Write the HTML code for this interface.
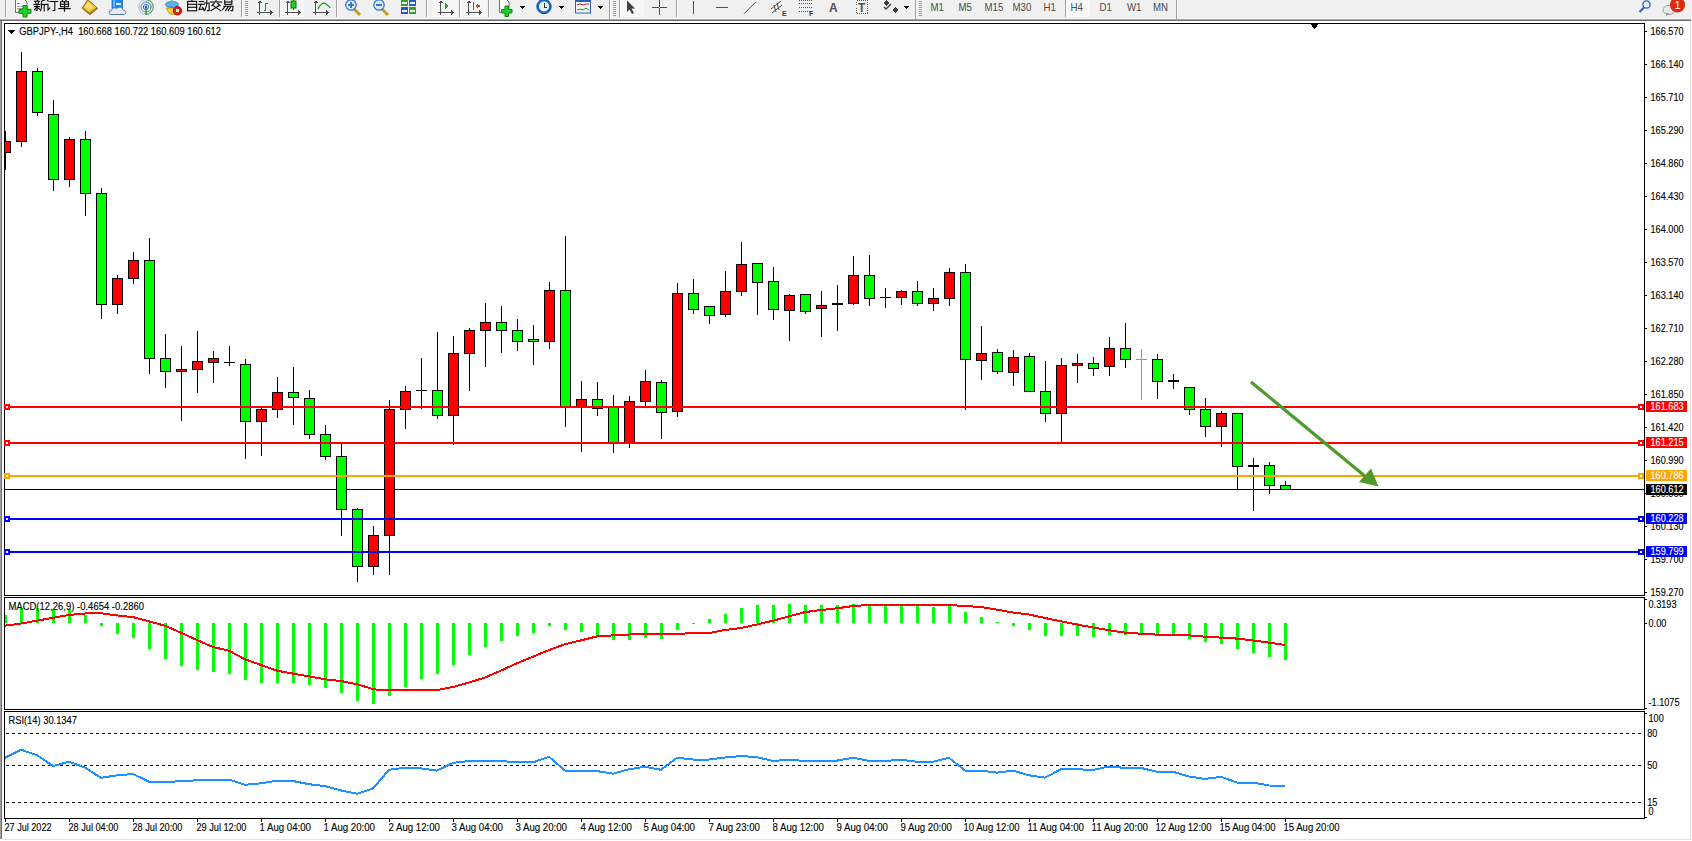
<!DOCTYPE html>
<html><head><meta charset="utf-8"><title>GBPJPY-,H4</title>
<style>html,body{margin:0;padding:0;background:#fff;overflow:hidden}
svg{position:absolute;left:0;top:0;display:block}
text{font-family:"Liberation Sans",sans-serif;white-space:pre}</style></head>
<body>
<svg width="1692" height="841" viewBox="0 0 1692 841" shape-rendering="crispEdges">
<defs>
<clipPath id="cmain"><rect x="5" y="24" width="1639" height="571"/></clipPath>
<clipPath id="cmacd"><rect x="5" y="598" width="1639" height="111"/></clipPath>
<clipPath id="crsi"><rect x="5" y="712" width="1639" height="106"/></clipPath>
</defs>
<rect x="0" y="0" width="1692" height="841" fill="#ffffff"/>
<rect x="0" y="0" width="1692" height="19" fill="#f0f0f0"/>
<rect x="0" y="18" width="1692" height="1" fill="#f7f7f7"/>
<rect x="0" y="19" width="1691" height="1" fill="#a8a8a8"/>
<rect x="0" y="20" width="1691" height="1" fill="#6e6e6e"/>
<rect x="0" y="21" width="1" height="818" fill="#a0a0a0"/>
<rect x="1" y="21" width="1" height="818" fill="#6e6e6e"/>
<rect x="1690" y="21" width="1" height="819" fill="#e0e0e0"/>
<rect x="2" y="839" width="1689" height="1" fill="#e3e3e3"/>
<rect x="4" y="23" width="1641" height="1" fill="#000"/>
<rect x="4" y="595" width="1641" height="1" fill="#000"/>
<rect x="4" y="23" width="1" height="573" fill="#000"/>
<rect x="1644" y="23" width="1" height="573" fill="#000"/>
<rect x="4" y="597" width="1641" height="1" fill="#000"/>
<rect x="4" y="709" width="1641" height="1" fill="#000"/>
<rect x="4" y="597" width="1" height="113" fill="#000"/>
<rect x="1644" y="597" width="1" height="113" fill="#000"/>
<rect x="4" y="711" width="1641" height="1" fill="#000"/>
<rect x="4" y="818" width="1641" height="1" fill="#000"/>
<rect x="4" y="711" width="1" height="108" fill="#000"/>
<rect x="1644" y="711" width="1" height="108" fill="#000"/>
<rect x="1645" y="31" width="2" height="1" fill="#000"/>
<text transform="translate(1650.5,35) scale(0.915,1)" font-size="10" fill="#000" stroke="#000" stroke-width="0.12" text-anchor="start" font-weight="normal">166.570</text>
<rect x="1645" y="64" width="2" height="1" fill="#000"/>
<text transform="translate(1650.5,68) scale(0.915,1)" font-size="10" fill="#000" stroke="#000" stroke-width="0.12" text-anchor="start" font-weight="normal">166.140</text>
<rect x="1645" y="97" width="2" height="1" fill="#000"/>
<text transform="translate(1650.5,101) scale(0.915,1)" font-size="10" fill="#000" stroke="#000" stroke-width="0.12" text-anchor="start" font-weight="normal">165.710</text>
<rect x="1645" y="130" width="2" height="1" fill="#000"/>
<text transform="translate(1650.5,134) scale(0.915,1)" font-size="10" fill="#000" stroke="#000" stroke-width="0.12" text-anchor="start" font-weight="normal">165.290</text>
<rect x="1645" y="163" width="2" height="1" fill="#000"/>
<text transform="translate(1650.5,167) scale(0.915,1)" font-size="10" fill="#000" stroke="#000" stroke-width="0.12" text-anchor="start" font-weight="normal">164.860</text>
<rect x="1645" y="196" width="2" height="1" fill="#000"/>
<text transform="translate(1650.5,200) scale(0.915,1)" font-size="10" fill="#000" stroke="#000" stroke-width="0.12" text-anchor="start" font-weight="normal">164.430</text>
<rect x="1645" y="229" width="2" height="1" fill="#000"/>
<text transform="translate(1650.5,233) scale(0.915,1)" font-size="10" fill="#000" stroke="#000" stroke-width="0.12" text-anchor="start" font-weight="normal">164.000</text>
<rect x="1645" y="262" width="2" height="1" fill="#000"/>
<text transform="translate(1650.5,266) scale(0.915,1)" font-size="10" fill="#000" stroke="#000" stroke-width="0.12" text-anchor="start" font-weight="normal">163.570</text>
<rect x="1645" y="295" width="2" height="1" fill="#000"/>
<text transform="translate(1650.5,299) scale(0.915,1)" font-size="10" fill="#000" stroke="#000" stroke-width="0.12" text-anchor="start" font-weight="normal">163.140</text>
<rect x="1645" y="328" width="2" height="1" fill="#000"/>
<text transform="translate(1650.5,332) scale(0.915,1)" font-size="10" fill="#000" stroke="#000" stroke-width="0.12" text-anchor="start" font-weight="normal">162.710</text>
<rect x="1645" y="361" width="2" height="1" fill="#000"/>
<text transform="translate(1650.5,365) scale(0.915,1)" font-size="10" fill="#000" stroke="#000" stroke-width="0.12" text-anchor="start" font-weight="normal">162.280</text>
<rect x="1645" y="394" width="2" height="1" fill="#000"/>
<text transform="translate(1650.5,398) scale(0.915,1)" font-size="10" fill="#000" stroke="#000" stroke-width="0.12" text-anchor="start" font-weight="normal">161.850</text>
<rect x="1645" y="427" width="2" height="1" fill="#000"/>
<text transform="translate(1650.5,431) scale(0.915,1)" font-size="10" fill="#000" stroke="#000" stroke-width="0.12" text-anchor="start" font-weight="normal">161.420</text>
<rect x="1645" y="460" width="2" height="1" fill="#000"/>
<text transform="translate(1650.5,464) scale(0.915,1)" font-size="10" fill="#000" stroke="#000" stroke-width="0.12" text-anchor="start" font-weight="normal">160.990</text>
<rect x="1645" y="493" width="2" height="1" fill="#000"/>
<text transform="translate(1650.5,497) scale(0.915,1)" font-size="10" fill="#000" stroke="#000" stroke-width="0.12" text-anchor="start" font-weight="normal">160.560</text>
<rect x="1645" y="526" width="2" height="1" fill="#000"/>
<text transform="translate(1650.5,530) scale(0.915,1)" font-size="10" fill="#000" stroke="#000" stroke-width="0.12" text-anchor="start" font-weight="normal">160.130</text>
<rect x="1645" y="559" width="2" height="1" fill="#000"/>
<text transform="translate(1650.5,563) scale(0.915,1)" font-size="10" fill="#000" stroke="#000" stroke-width="0.12" text-anchor="start" font-weight="normal">159.700</text>
<rect x="1645" y="592" width="2" height="1" fill="#000"/>
<text transform="translate(1650.5,596) scale(0.915,1)" font-size="10" fill="#000" stroke="#000" stroke-width="0.12" text-anchor="start" font-weight="normal">159.270</text>
<rect x="5" y="489" width="1639" height="1" fill="#000"/>
<g clip-path="url(#cmain)"><rect x="5" y="131" width="1" height="39" fill="#000"/><rect x="0" y="141" width="11" height="12" fill="#000"/><rect x="1" y="142" width="9" height="10" fill="#ff0000"/><rect x="21" y="52" width="1" height="95" fill="#000"/><rect x="16" y="71" width="11" height="71" fill="#000"/><rect x="17" y="72" width="9" height="69" fill="#ff0000"/><rect x="37" y="68" width="1" height="48" fill="#000"/><rect x="32" y="71" width="11" height="42" fill="#000"/><rect x="33" y="72" width="9" height="40" fill="#00ff00"/><rect x="53" y="100" width="1" height="91" fill="#000"/><rect x="48" y="114" width="11" height="66" fill="#000"/><rect x="49" y="115" width="9" height="64" fill="#00ff00"/><rect x="69" y="137" width="1" height="50" fill="#000"/><rect x="64" y="139" width="11" height="41" fill="#000"/><rect x="65" y="140" width="9" height="39" fill="#ff0000"/><rect x="85" y="131" width="1" height="85" fill="#000"/><rect x="80" y="139" width="11" height="55" fill="#000"/><rect x="81" y="140" width="9" height="53" fill="#00ff00"/><rect x="101" y="188" width="1" height="131" fill="#000"/><rect x="96" y="193" width="11" height="112" fill="#000"/><rect x="97" y="194" width="9" height="110" fill="#00ff00"/><rect x="117" y="275" width="1" height="39" fill="#000"/><rect x="112" y="278" width="11" height="27" fill="#000"/><rect x="113" y="279" width="9" height="25" fill="#ff0000"/><rect x="133" y="252" width="1" height="32" fill="#000"/><rect x="128" y="260" width="11" height="19" fill="#000"/><rect x="129" y="261" width="9" height="17" fill="#ff0000"/><rect x="149" y="238" width="1" height="136" fill="#000"/><rect x="144" y="260" width="11" height="99" fill="#000"/><rect x="145" y="261" width="9" height="97" fill="#00ff00"/><rect x="165" y="334" width="1" height="54" fill="#000"/><rect x="160" y="358" width="11" height="14" fill="#000"/><rect x="161" y="359" width="9" height="12" fill="#00ff00"/><rect x="181" y="346" width="1" height="75" fill="#000"/><rect x="176" y="369" width="11" height="3" fill="#000"/><rect x="177" y="370" width="9" height="1" fill="#ff0000"/><rect x="197" y="331" width="1" height="62" fill="#000"/><rect x="192" y="361" width="11" height="9" fill="#000"/><rect x="193" y="362" width="9" height="7" fill="#ff0000"/><rect x="213" y="351" width="1" height="32" fill="#000"/><rect x="208" y="358" width="11" height="5" fill="#000"/><rect x="209" y="359" width="9" height="3" fill="#ff0000"/><rect x="229" y="346" width="1" height="20" fill="#000"/><rect x="224" y="362" width="11" height="1" fill="#000"/><rect x="245" y="359" width="1" height="100" fill="#000"/><rect x="240" y="364" width="11" height="58" fill="#000"/><rect x="241" y="365" width="9" height="56" fill="#00ff00"/><rect x="261" y="407" width="1" height="49" fill="#000"/><rect x="256" y="409" width="11" height="13" fill="#000"/><rect x="257" y="410" width="9" height="11" fill="#ff0000"/><rect x="277" y="377" width="1" height="41" fill="#000"/><rect x="272" y="392" width="11" height="18" fill="#000"/><rect x="273" y="393" width="9" height="16" fill="#ff0000"/><rect x="293" y="367" width="1" height="58" fill="#000"/><rect x="288" y="392" width="11" height="6" fill="#000"/><rect x="289" y="393" width="9" height="4" fill="#00ff00"/><rect x="309" y="390" width="1" height="49" fill="#000"/><rect x="304" y="398" width="11" height="37" fill="#000"/><rect x="305" y="399" width="9" height="35" fill="#00ff00"/><rect x="325" y="425" width="1" height="35" fill="#000"/><rect x="320" y="434" width="11" height="23" fill="#000"/><rect x="321" y="435" width="9" height="21" fill="#00ff00"/><rect x="341" y="444" width="1" height="92" fill="#000"/><rect x="336" y="456" width="11" height="54" fill="#000"/><rect x="337" y="457" width="9" height="52" fill="#00ff00"/><rect x="357" y="508" width="1" height="74" fill="#000"/><rect x="352" y="509" width="11" height="58" fill="#000"/><rect x="353" y="510" width="9" height="56" fill="#00ff00"/><rect x="373" y="526" width="1" height="49" fill="#000"/><rect x="368" y="535" width="11" height="32" fill="#000"/><rect x="369" y="536" width="9" height="30" fill="#ff0000"/><rect x="389" y="400" width="1" height="175" fill="#000"/><rect x="384" y="409" width="11" height="127" fill="#000"/><rect x="385" y="410" width="9" height="125" fill="#ff0000"/><rect x="405" y="386" width="1" height="43" fill="#000"/><rect x="400" y="391" width="11" height="19" fill="#000"/><rect x="401" y="392" width="9" height="17" fill="#ff0000"/><rect x="421" y="358" width="1" height="51" fill="#000"/><rect x="416" y="390" width="11" height="1" fill="#000"/><rect x="437" y="332" width="1" height="87" fill="#000"/><rect x="432" y="390" width="11" height="26" fill="#000"/><rect x="433" y="391" width="9" height="24" fill="#00ff00"/><rect x="453" y="336" width="1" height="109" fill="#000"/><rect x="448" y="353" width="11" height="63" fill="#000"/><rect x="449" y="354" width="9" height="61" fill="#ff0000"/><rect x="469" y="328" width="1" height="63" fill="#000"/><rect x="464" y="330" width="11" height="24" fill="#000"/><rect x="465" y="331" width="9" height="22" fill="#ff0000"/><rect x="485" y="303" width="1" height="64" fill="#000"/><rect x="480" y="322" width="11" height="9" fill="#000"/><rect x="481" y="323" width="9" height="7" fill="#ff0000"/><rect x="501" y="306" width="1" height="47" fill="#000"/><rect x="496" y="322" width="11" height="9" fill="#000"/><rect x="497" y="323" width="9" height="7" fill="#00ff00"/><rect x="517" y="319" width="1" height="32" fill="#000"/><rect x="512" y="330" width="11" height="12" fill="#000"/><rect x="513" y="331" width="9" height="10" fill="#00ff00"/><rect x="533" y="325" width="1" height="40" fill="#000"/><rect x="528" y="339" width="11" height="3" fill="#000"/><rect x="529" y="340" width="9" height="1" fill="#00ff00"/><rect x="549" y="282" width="1" height="67" fill="#000"/><rect x="544" y="290" width="11" height="52" fill="#000"/><rect x="545" y="291" width="9" height="50" fill="#ff0000"/><rect x="565" y="236" width="1" height="191" fill="#000"/><rect x="560" y="290" width="11" height="117" fill="#000"/><rect x="561" y="291" width="9" height="115" fill="#00ff00"/><rect x="581" y="381" width="1" height="71" fill="#000"/><rect x="576" y="399" width="11" height="8" fill="#000"/><rect x="577" y="400" width="9" height="6" fill="#ff0000"/><rect x="597" y="382" width="1" height="34" fill="#000"/><rect x="592" y="399" width="11" height="10" fill="#000"/><rect x="593" y="400" width="9" height="8" fill="#00ff00"/><rect x="613" y="395" width="1" height="58" fill="#000"/><rect x="608" y="407" width="11" height="36" fill="#000"/><rect x="609" y="408" width="9" height="34" fill="#00ff00"/><rect x="629" y="396" width="1" height="52" fill="#000"/><rect x="624" y="401" width="11" height="42" fill="#000"/><rect x="625" y="402" width="9" height="40" fill="#ff0000"/><rect x="645" y="370" width="1" height="36" fill="#000"/><rect x="640" y="381" width="11" height="21" fill="#000"/><rect x="641" y="382" width="9" height="19" fill="#ff0000"/><rect x="661" y="380" width="1" height="59" fill="#000"/><rect x="656" y="382" width="11" height="31" fill="#000"/><rect x="657" y="383" width="9" height="29" fill="#00ff00"/><rect x="677" y="283" width="1" height="134" fill="#000"/><rect x="672" y="293" width="11" height="119" fill="#000"/><rect x="673" y="294" width="9" height="117" fill="#ff0000"/><rect x="693" y="279" width="1" height="35" fill="#000"/><rect x="688" y="293" width="11" height="17" fill="#000"/><rect x="689" y="294" width="9" height="15" fill="#00ff00"/><rect x="709" y="306" width="1" height="18" fill="#000"/><rect x="704" y="306" width="11" height="10" fill="#000"/><rect x="705" y="307" width="9" height="8" fill="#00ff00"/><rect x="725" y="271" width="1" height="46" fill="#000"/><rect x="720" y="291" width="11" height="24" fill="#000"/><rect x="721" y="292" width="9" height="22" fill="#ff0000"/><rect x="741" y="242" width="1" height="54" fill="#000"/><rect x="736" y="264" width="11" height="28" fill="#000"/><rect x="737" y="265" width="9" height="26" fill="#ff0000"/><rect x="757" y="263" width="1" height="52" fill="#000"/><rect x="752" y="263" width="11" height="20" fill="#000"/><rect x="753" y="264" width="9" height="18" fill="#00ff00"/><rect x="773" y="267" width="1" height="53" fill="#000"/><rect x="768" y="281" width="11" height="29" fill="#000"/><rect x="769" y="282" width="9" height="27" fill="#00ff00"/><rect x="789" y="294" width="1" height="47" fill="#000"/><rect x="784" y="295" width="11" height="16" fill="#000"/><rect x="785" y="296" width="9" height="14" fill="#ff0000"/><rect x="805" y="294" width="1" height="20" fill="#000"/><rect x="800" y="294" width="11" height="18" fill="#000"/><rect x="801" y="295" width="9" height="16" fill="#00ff00"/><rect x="821" y="291" width="1" height="46" fill="#000"/><rect x="816" y="305" width="11" height="4" fill="#000"/><rect x="817" y="306" width="9" height="2" fill="#ff0000"/><rect x="837" y="285" width="1" height="46" fill="#000"/><rect x="832" y="303" width="11" height="2" fill="#000"/><rect x="853" y="256" width="1" height="49" fill="#000"/><rect x="848" y="275" width="11" height="29" fill="#000"/><rect x="849" y="276" width="9" height="27" fill="#ff0000"/><rect x="869" y="255" width="1" height="51" fill="#000"/><rect x="864" y="275" width="11" height="24" fill="#000"/><rect x="865" y="276" width="9" height="22" fill="#00ff00"/><rect x="885" y="288" width="1" height="20" fill="#000"/><rect x="880" y="297" width="11" height="1" fill="#000"/><rect x="901" y="290" width="1" height="15" fill="#000"/><rect x="896" y="291" width="11" height="7" fill="#000"/><rect x="897" y="292" width="9" height="5" fill="#ff0000"/><rect x="917" y="281" width="1" height="25" fill="#000"/><rect x="912" y="291" width="11" height="13" fill="#000"/><rect x="913" y="292" width="9" height="11" fill="#00ff00"/><rect x="933" y="288" width="1" height="23" fill="#000"/><rect x="928" y="298" width="11" height="6" fill="#000"/><rect x="929" y="299" width="9" height="4" fill="#ff0000"/><rect x="949" y="268" width="1" height="38" fill="#000"/><rect x="944" y="272" width="11" height="27" fill="#000"/><rect x="945" y="273" width="9" height="25" fill="#ff0000"/><rect x="965" y="264" width="1" height="146" fill="#000"/><rect x="960" y="272" width="11" height="88" fill="#000"/><rect x="961" y="273" width="9" height="86" fill="#00ff00"/><rect x="981" y="326" width="1" height="54" fill="#000"/><rect x="976" y="353" width="11" height="8" fill="#000"/><rect x="977" y="354" width="9" height="6" fill="#ff0000"/><rect x="997" y="349" width="1" height="25" fill="#000"/><rect x="992" y="352" width="11" height="20" fill="#000"/><rect x="993" y="353" width="9" height="18" fill="#00ff00"/><rect x="1013" y="350" width="1" height="36" fill="#000"/><rect x="1008" y="357" width="11" height="16" fill="#000"/><rect x="1009" y="358" width="9" height="14" fill="#ff0000"/><rect x="1029" y="353" width="1" height="39" fill="#000"/><rect x="1024" y="356" width="11" height="36" fill="#000"/><rect x="1025" y="357" width="9" height="34" fill="#00ff00"/><rect x="1045" y="361" width="1" height="61" fill="#000"/><rect x="1040" y="391" width="11" height="23" fill="#000"/><rect x="1041" y="392" width="9" height="21" fill="#00ff00"/><rect x="1061" y="358" width="1" height="84" fill="#000"/><rect x="1056" y="365" width="11" height="49" fill="#000"/><rect x="1057" y="366" width="9" height="47" fill="#ff0000"/><rect x="1077" y="354" width="1" height="29" fill="#000"/><rect x="1072" y="363" width="11" height="3" fill="#000"/><rect x="1073" y="364" width="9" height="1" fill="#ff0000"/><rect x="1093" y="357" width="1" height="19" fill="#000"/><rect x="1088" y="363" width="11" height="6" fill="#000"/><rect x="1089" y="364" width="9" height="4" fill="#00ff00"/><rect x="1109" y="337" width="1" height="39" fill="#000"/><rect x="1104" y="348" width="11" height="19" fill="#000"/><rect x="1105" y="349" width="9" height="17" fill="#ff0000"/><rect x="1125" y="323" width="1" height="45" fill="#000"/><rect x="1120" y="348" width="11" height="12" fill="#000"/><rect x="1121" y="349" width="9" height="10" fill="#00ff00"/><rect x="1141" y="349" width="1" height="51" fill="#00ff00"/><rect x="1136" y="359" width="11" height="1" fill="#00ff00"/><rect x="1157" y="354" width="1" height="45" fill="#000"/><rect x="1152" y="359" width="11" height="23" fill="#000"/><rect x="1153" y="360" width="9" height="21" fill="#00ff00"/><rect x="1173" y="374" width="1" height="15" fill="#000"/><rect x="1168" y="380" width="11" height="2" fill="#000"/><rect x="1189" y="387" width="1" height="28" fill="#000"/><rect x="1184" y="387" width="11" height="23" fill="#000"/><rect x="1185" y="388" width="9" height="21" fill="#00ff00"/><rect x="1205" y="398" width="1" height="39" fill="#000"/><rect x="1200" y="409" width="11" height="18" fill="#000"/><rect x="1201" y="410" width="9" height="16" fill="#00ff00"/><rect x="1221" y="411" width="1" height="36" fill="#000"/><rect x="1216" y="413" width="11" height="14" fill="#000"/><rect x="1217" y="414" width="9" height="12" fill="#ff0000"/><rect x="1237" y="413" width="1" height="77" fill="#000"/><rect x="1232" y="413" width="11" height="54" fill="#000"/><rect x="1233" y="414" width="9" height="52" fill="#00ff00"/><rect x="1253" y="458" width="1" height="53" fill="#000"/><rect x="1248" y="465" width="11" height="2" fill="#000"/><rect x="1269" y="462" width="1" height="32" fill="#000"/><rect x="1264" y="465" width="11" height="21" fill="#000"/><rect x="1265" y="466" width="9" height="19" fill="#00ff00"/><rect x="1285" y="481" width="1" height="9" fill="#000"/><rect x="1280" y="485" width="11" height="5" fill="#000"/><rect x="1281" y="486" width="9" height="3" fill="#00ff00"/></g>
<rect x="5" y="406" width="1639" height="2" fill="#ff0000"/>
<rect x="4" y="404" width="6" height="6" fill="#ff0000"/>
<rect x="6" y="406" width="2" height="2" fill="#fff"/>
<rect x="1638" y="404" width="6" height="6" fill="#ff0000"/>
<rect x="1640" y="406" width="2" height="2" fill="#fff"/>
<rect x="5" y="442" width="1639" height="2" fill="#ff0000"/>
<rect x="4" y="440" width="6" height="6" fill="#ff0000"/>
<rect x="6" y="442" width="2" height="2" fill="#fff"/>
<rect x="1638" y="440" width="6" height="6" fill="#ff0000"/>
<rect x="1640" y="442" width="2" height="2" fill="#fff"/>
<rect x="5" y="475" width="1639" height="2" fill="#ffa500"/>
<rect x="4" y="473" width="6" height="6" fill="#ffa500"/>
<rect x="6" y="475" width="2" height="2" fill="#fff"/>
<rect x="1638" y="473" width="6" height="6" fill="#ffa500"/>
<rect x="1640" y="475" width="2" height="2" fill="#fff"/>
<rect x="5" y="518" width="1639" height="2" fill="#0000ff"/>
<rect x="4" y="516" width="6" height="6" fill="#0000ff"/>
<rect x="6" y="518" width="2" height="2" fill="#fff"/>
<rect x="1638" y="516" width="6" height="6" fill="#0000ff"/>
<rect x="1640" y="518" width="2" height="2" fill="#fff"/>
<rect x="5" y="551" width="1639" height="2" fill="#0000ff"/>
<rect x="4" y="549" width="6" height="6" fill="#0000ff"/>
<rect x="6" y="551" width="2" height="2" fill="#fff"/>
<rect x="1638" y="549" width="6" height="6" fill="#0000ff"/>
<rect x="1640" y="551" width="2" height="2" fill="#fff"/>
<line x1="1251" y1="381.9" x2="1366" y2="476.9" stroke="#4f9a2c" stroke-width="3.2" shape-rendering="geometricPrecision"/>
<polygon points="1359,482 1371,468.5 1378.5,486.5" fill="#4f9a2c" shape-rendering="geometricPrecision"/>
<rect x="1646" y="401" width="41" height="11" fill="#ff0000"/>
<text transform="translate(1650.5,410) scale(0.915,1)" font-size="10" fill="#fff" stroke="#fff" stroke-width="0.12" text-anchor="start" font-weight="normal">161.683</text>
<rect x="1646" y="437" width="41" height="11" fill="#ff0000"/>
<text transform="translate(1650.5,446) scale(0.915,1)" font-size="10" fill="#fff" stroke="#fff" stroke-width="0.12" text-anchor="start" font-weight="normal">161.215</text>
<rect x="1646" y="470" width="41" height="11" fill="#ffa500"/>
<text transform="translate(1650.5,479) scale(0.915,1)" font-size="10" fill="#fff" stroke="#fff" stroke-width="0.12" text-anchor="start" font-weight="normal">160.786</text>
<rect x="1646" y="513" width="41" height="11" fill="#0000ff"/>
<text transform="translate(1650.5,522) scale(0.915,1)" font-size="10" fill="#fff" stroke="#fff" stroke-width="0.12" text-anchor="start" font-weight="normal">160.228</text>
<rect x="1646" y="546" width="41" height="11" fill="#0000ff"/>
<text transform="translate(1650.5,555) scale(0.915,1)" font-size="10" fill="#fff" stroke="#fff" stroke-width="0.12" text-anchor="start" font-weight="normal">159.799</text>
<rect x="1646" y="484" width="41" height="11" fill="#000"/>
<text transform="translate(1650.5,493) scale(0.915,1)" font-size="10" fill="#fff" stroke="#fff" stroke-width="0.12" text-anchor="start" font-weight="normal">160.612</text>
<polygon points="1309.5,23 1319.5,23 1314.5,29" fill="#000"/>
<polygon points="8,30 15,30 11.5,34" fill="#000"/>
<text transform="translate(19.3,35) scale(0.935,1)" font-size="10" fill="#000" stroke="#000" stroke-width="0.12" text-anchor="start" font-weight="normal">GBPJPY-,H4  160.668 160.722 160.609 160.612</text>
<g clip-path="url(#cmacd)"><rect x="4" y="615" width="3" height="8" fill="#00ff00"/><rect x="20" y="608" width="3" height="15" fill="#00ff00"/><rect x="36" y="608" width="3" height="15" fill="#00ff00"/><rect x="52" y="609" width="3" height="14" fill="#00ff00"/><rect x="68" y="609" width="3" height="14" fill="#00ff00"/><rect x="84" y="615" width="3" height="8" fill="#00ff00"/><rect x="100" y="623" width="3" height="3" fill="#00ff00"/><rect x="116" y="623" width="3" height="11" fill="#00ff00"/><rect x="132" y="623" width="3" height="15" fill="#00ff00"/><rect x="148" y="623" width="3" height="26" fill="#00ff00"/><rect x="164" y="623" width="3" height="36" fill="#00ff00"/><rect x="180" y="623" width="3" height="43" fill="#00ff00"/><rect x="196" y="623" width="3" height="47" fill="#00ff00"/><rect x="212" y="623" width="3" height="49" fill="#00ff00"/><rect x="228" y="623" width="3" height="51" fill="#00ff00"/><rect x="244" y="623" width="3" height="57" fill="#00ff00"/><rect x="260" y="623" width="3" height="60" fill="#00ff00"/><rect x="276" y="623" width="3" height="60" fill="#00ff00"/><rect x="292" y="623" width="3" height="60" fill="#00ff00"/><rect x="308" y="623" width="3" height="62" fill="#00ff00"/><rect x="324" y="623" width="3" height="65" fill="#00ff00"/><rect x="340" y="623" width="3" height="70" fill="#00ff00"/><rect x="356" y="623" width="3" height="78" fill="#00ff00"/><rect x="372" y="623" width="3" height="81" fill="#00ff00"/><rect x="388" y="623" width="3" height="73" fill="#00ff00"/><rect x="404" y="623" width="3" height="64" fill="#00ff00"/><rect x="420" y="623" width="3" height="56" fill="#00ff00"/><rect x="436" y="623" width="3" height="51" fill="#00ff00"/><rect x="452" y="623" width="3" height="42" fill="#00ff00"/><rect x="468" y="623" width="3" height="32" fill="#00ff00"/><rect x="484" y="623" width="3" height="24" fill="#00ff00"/><rect x="500" y="623" width="3" height="18" fill="#00ff00"/><rect x="516" y="623" width="3" height="13" fill="#00ff00"/><rect x="532" y="623" width="3" height="10" fill="#00ff00"/><rect x="548" y="623" width="3" height="3" fill="#00ff00"/><rect x="564" y="623" width="3" height="7" fill="#00ff00"/><rect x="580" y="623" width="3" height="9" fill="#00ff00"/><rect x="596" y="623" width="3" height="12" fill="#00ff00"/><rect x="612" y="623" width="3" height="17" fill="#00ff00"/><rect x="628" y="623" width="3" height="17" fill="#00ff00"/><rect x="644" y="623" width="3" height="15" fill="#00ff00"/><rect x="660" y="623" width="3" height="16" fill="#00ff00"/><rect x="676" y="623" width="3" height="7" fill="#00ff00"/><rect x="692" y="623" width="3" height="1" fill="#00ff00"/><rect x="708" y="619" width="3" height="4" fill="#00ff00"/><rect x="724" y="614" width="3" height="9" fill="#00ff00"/><rect x="740" y="608" width="3" height="15" fill="#00ff00"/><rect x="756" y="605" width="3" height="18" fill="#00ff00"/><rect x="772" y="605" width="3" height="18" fill="#00ff00"/><rect x="788" y="604" width="3" height="19" fill="#00ff00"/><rect x="804" y="605" width="3" height="18" fill="#00ff00"/><rect x="820" y="605" width="3" height="18" fill="#00ff00"/><rect x="836" y="605" width="3" height="18" fill="#00ff00"/><rect x="852" y="604" width="3" height="19" fill="#00ff00"/><rect x="868" y="604" width="3" height="19" fill="#00ff00"/><rect x="884" y="606" width="3" height="17" fill="#00ff00"/><rect x="900" y="606" width="3" height="17" fill="#00ff00"/><rect x="916" y="606" width="3" height="17" fill="#00ff00"/><rect x="932" y="607" width="3" height="16" fill="#00ff00"/><rect x="948" y="606" width="3" height="17" fill="#00ff00"/><rect x="964" y="612" width="3" height="11" fill="#00ff00"/><rect x="980" y="617" width="3" height="6" fill="#00ff00"/><rect x="996" y="622" width="3" height="1" fill="#00ff00"/><rect x="1012" y="623" width="3" height="3" fill="#00ff00"/><rect x="1028" y="623" width="3" height="7" fill="#00ff00"/><rect x="1044" y="623" width="3" height="13" fill="#00ff00"/><rect x="1060" y="623" width="3" height="13" fill="#00ff00"/><rect x="1076" y="623" width="3" height="13" fill="#00ff00"/><rect x="1092" y="623" width="3" height="14" fill="#00ff00"/><rect x="1108" y="623" width="3" height="12" fill="#00ff00"/><rect x="1124" y="623" width="3" height="12" fill="#00ff00"/><rect x="1140" y="623" width="3" height="10" fill="#00ff00"/><rect x="1156" y="623" width="3" height="11" fill="#00ff00"/><rect x="1172" y="623" width="3" height="11" fill="#00ff00"/><rect x="1188" y="623" width="3" height="16" fill="#00ff00"/><rect x="1204" y="623" width="3" height="19" fill="#00ff00"/><rect x="1220" y="623" width="3" height="21" fill="#00ff00"/><rect x="1236" y="623" width="3" height="26" fill="#00ff00"/><rect x="1252" y="623" width="3" height="30" fill="#00ff00"/><rect x="1268" y="623" width="3" height="34" fill="#00ff00"/><rect x="1284" y="623" width="3" height="37" fill="#00ff00"/></g>
<g clip-path="url(#cmacd)"><polyline points="5,625.7 21,623.5 37,620.7 53,617.8 69,615 85,613.5 95,612.8 101,613.3 117,615.4 133,617.1 149,621.4 165,625.7 181,632.8 197,640 213,647 229,650.7 245,659.3 261,665 277,670.7 293,673.6 309,676.4 325,679.3 341,681 357,684.3 373,689 381,690.2 437,690 453,687 469,682.5 485,677.5 501,670.6 517,663.2 533,656.7 549,650 565,644.2 581,640.4 597,636.4 613,635.4 629,634.5 645,634 677,634 693,633 709,633 725,630 741,628 757,624.5 773,620.7 789,616.4 805,612.1 821,610 837,608.3 853,606 869,605 949,605 965,606 981,607 997,609.7 1013,612.5 1029,614.5 1045,618 1061,621.3 1077,624.5 1093,627.5 1109,630.2 1125,632.7 1141,633.7 1157,634.6 1189,635.3 1205,636.7 1221,637.6 1237,638.6 1253,640.5 1269,642.6 1285,645" fill="none" stroke="#ff0000" stroke-width="2"/></g>
<text transform="translate(8.4,610) scale(0.95,1)" font-size="10" fill="#000" stroke="#000" stroke-width="0.12" text-anchor="start" font-weight="normal">MACD(12,26,9) -0.4654 -0.2860</text>
<rect x="1645" y="599" width="2" height="1" fill="#000"/>
<text transform="translate(1648.5,608) scale(0.915,1)" font-size="10" fill="#000" stroke="#000" stroke-width="0.12" text-anchor="start" font-weight="normal">0.3193</text>
<rect x="1645" y="623" width="2" height="1" fill="#000"/>
<text transform="translate(1648.5,627) scale(0.915,1)" font-size="10" fill="#000" stroke="#000" stroke-width="0.12" text-anchor="start" font-weight="normal">0.00</text>
<rect x="1645" y="708" width="2" height="1" fill="#000"/>
<text transform="translate(1648.5,706) scale(0.915,1)" font-size="10" fill="#000" stroke="#000" stroke-width="0.12" text-anchor="start" font-weight="normal">-1.1075</text>
<line x1="6" y1="733.5" x2="1643" y2="733.5" stroke="#000" stroke-width="1" stroke-dasharray="3,3"/>
<line x1="6" y1="765.5" x2="1643" y2="765.5" stroke="#000" stroke-width="1" stroke-dasharray="3,3"/>
<line x1="6" y1="802.5" x2="1643" y2="802.5" stroke="#000" stroke-width="1" stroke-dasharray="3,3"/>
<g clip-path="url(#crsi)"><polyline points="5,757.8 21,749.7 37,755.2 53,766 69,761.8 85,767.5 101,777.9 117,775.3 133,774 149,781.7 165,781.7 181,781.4 197,780.2 213,779.6 229,779.6 245,784.8 261,783.3 277,780.7 293,781 309,784.2 325,786.1 341,790.4 357,793.8 373,788.4 389,769.8 405,767.8 421,768.3 437,770.6 453,762.9 469,761 485,761 501,761 517,762.4 533,762.4 549,756.7 565,770.6 581,770.6 597,771.1 613,773.7 629,769.2 645,766.8 661,769.8 677,757.8 693,759.5 709,759.5 725,757.5 741,756 757,757.2 773,760.9 789,759.8 805,760.9 821,760.9 837,760.6 853,757.8 869,760.9 885,760.9 901,759.8 917,761.8 933,761.8 949,757.8 965,770.6 981,770.6 997,772.6 1013,770.6 1029,775.3 1045,777.6 1061,769.2 1077,769.2 1093,770 1109,766.5 1125,767.9 1141,767.9 1157,771.8 1173,771.8 1189,776.5 1205,778.9 1221,776.8 1237,782.5 1253,782.5 1269,785.5 1285,785.7" fill="none" stroke="#1e90ff" stroke-width="2"/></g>
<text transform="translate(8.4,724) scale(0.935,1)" font-size="10" fill="#000" stroke="#000" stroke-width="0.12" text-anchor="start" font-weight="normal">RSI(14) 30.1347</text>
<rect x="1645" y="713" width="2" height="1" fill="#000"/>
<text transform="translate(1648.5,722) scale(0.915,1)" font-size="10" fill="#000" stroke="#000" stroke-width="0.12" text-anchor="start" font-weight="normal">100</text>
<text transform="translate(1647.2,737) scale(0.915,1)" font-size="10" fill="#000" stroke="#000" stroke-width="0.12" text-anchor="start" font-weight="normal">80</text>
<text transform="translate(1647.2,769) scale(0.915,1)" font-size="10" fill="#000" stroke="#000" stroke-width="0.12" text-anchor="start" font-weight="normal">50</text>
<text transform="translate(1647.2,806) scale(0.915,1)" font-size="10" fill="#000" stroke="#000" stroke-width="0.12" text-anchor="start" font-weight="normal">15</text>
<rect x="1645" y="817" width="2" height="1" fill="#000"/>
<text transform="translate(1648.5,815) scale(0.915,1)" font-size="10" fill="#000" stroke="#000" stroke-width="0.12" text-anchor="start" font-weight="normal">0</text>
<rect x="5" y="819" width="1" height="3" fill="#000"/>
<text transform="translate(4.5,831) scale(0.91,1)" font-size="10" fill="#000" stroke="#000" stroke-width="0.12" text-anchor="start" font-weight="normal">27 Jul 2022</text>
<rect x="69" y="819" width="1" height="3" fill="#000"/>
<text transform="translate(68.5,831) scale(0.918,1)" font-size="10" fill="#000" stroke="#000" stroke-width="0.12" text-anchor="start" font-weight="normal">28 Jul 04:00</text>
<rect x="133" y="819" width="1" height="3" fill="#000"/>
<text transform="translate(132.5,831) scale(0.918,1)" font-size="10" fill="#000" stroke="#000" stroke-width="0.12" text-anchor="start" font-weight="normal">28 Jul 20:00</text>
<rect x="197" y="819" width="1" height="3" fill="#000"/>
<text transform="translate(196.5,831) scale(0.918,1)" font-size="10" fill="#000" stroke="#000" stroke-width="0.12" text-anchor="start" font-weight="normal">29 Jul 12:00</text>
<rect x="261" y="819" width="1" height="3" fill="#000"/>
<text transform="translate(259.535,831) scale(0.965,1)" font-size="10" fill="#000" stroke="#000" stroke-width="0.12" text-anchor="start" font-weight="normal">1 Aug 04:00</text>
<rect x="325" y="819" width="1" height="3" fill="#000"/>
<text transform="translate(323.535,831) scale(0.965,1)" font-size="10" fill="#000" stroke="#000" stroke-width="0.12" text-anchor="start" font-weight="normal">1 Aug 20:00</text>
<rect x="389" y="819" width="1" height="3" fill="#000"/>
<text transform="translate(388.5,831) scale(0.965,1)" font-size="10" fill="#000" stroke="#000" stroke-width="0.12" text-anchor="start" font-weight="normal">2 Aug 12:00</text>
<rect x="453" y="819" width="1" height="3" fill="#000"/>
<text transform="translate(451.535,831) scale(0.965,1)" font-size="10" fill="#000" stroke="#000" stroke-width="0.12" text-anchor="start" font-weight="normal">3 Aug 04:00</text>
<rect x="517" y="819" width="1" height="3" fill="#000"/>
<text transform="translate(515.535,831) scale(0.965,1)" font-size="10" fill="#000" stroke="#000" stroke-width="0.12" text-anchor="start" font-weight="normal">3 Aug 20:00</text>
<rect x="581" y="819" width="1" height="3" fill="#000"/>
<text transform="translate(580.5,831) scale(0.965,1)" font-size="10" fill="#000" stroke="#000" stroke-width="0.12" text-anchor="start" font-weight="normal">4 Aug 12:00</text>
<rect x="645" y="819" width="1" height="3" fill="#000"/>
<text transform="translate(643.535,831) scale(0.965,1)" font-size="10" fill="#000" stroke="#000" stroke-width="0.12" text-anchor="start" font-weight="normal">5 Aug 04:00</text>
<rect x="709" y="819" width="1" height="3" fill="#000"/>
<text transform="translate(708.5,831) scale(0.965,1)" font-size="10" fill="#000" stroke="#000" stroke-width="0.12" text-anchor="start" font-weight="normal">7 Aug 23:00</text>
<rect x="773" y="819" width="1" height="3" fill="#000"/>
<text transform="translate(772.5,831) scale(0.965,1)" font-size="10" fill="#000" stroke="#000" stroke-width="0.12" text-anchor="start" font-weight="normal">8 Aug 12:00</text>
<rect x="837" y="819" width="1" height="3" fill="#000"/>
<text transform="translate(836.5,831) scale(0.965,1)" font-size="10" fill="#000" stroke="#000" stroke-width="0.12" text-anchor="start" font-weight="normal">9 Aug 04:00</text>
<rect x="901" y="819" width="1" height="3" fill="#000"/>
<text transform="translate(900.5,831) scale(0.965,1)" font-size="10" fill="#000" stroke="#000" stroke-width="0.12" text-anchor="start" font-weight="normal">9 Aug 20:00</text>
<rect x="965" y="819" width="1" height="3" fill="#000"/>
<text transform="translate(963.547,831) scale(0.953,1)" font-size="10" fill="#000" stroke="#000" stroke-width="0.12" text-anchor="start" font-weight="normal">10 Aug 12:00</text>
<rect x="1029" y="819" width="1" height="3" fill="#000"/>
<text transform="translate(1027.53,831) scale(0.97,1)" font-size="10" fill="#000" stroke="#000" stroke-width="0.12" text-anchor="start" font-weight="normal">11 Aug 04:00</text>
<rect x="1093" y="819" width="1" height="3" fill="#000"/>
<text transform="translate(1091.53,831) scale(0.97,1)" font-size="10" fill="#000" stroke="#000" stroke-width="0.12" text-anchor="start" font-weight="normal">11 Aug 20:00</text>
<rect x="1157" y="819" width="1" height="3" fill="#000"/>
<text transform="translate(1155.547,831) scale(0.953,1)" font-size="10" fill="#000" stroke="#000" stroke-width="0.12" text-anchor="start" font-weight="normal">12 Aug 12:00</text>
<rect x="1221" y="819" width="1" height="3" fill="#000"/>
<text transform="translate(1219.547,831) scale(0.953,1)" font-size="10" fill="#000" stroke="#000" stroke-width="0.12" text-anchor="start" font-weight="normal">15 Aug 04:00</text>
<rect x="1285" y="819" width="1" height="3" fill="#000"/>
<text transform="translate(1283.547,831) scale(0.953,1)" font-size="10" fill="#000" stroke="#000" stroke-width="0.12" text-anchor="start" font-weight="normal">15 Aug 20:00</text>
<rect x="5" y="0" width="1" height="17" fill="#a0a0a0"/>
<rect x="6" y="0" width="1" height="17" fill="#ffffff"/>
<path d="M15.5,-1 H24 L27,2 V12.5 H15.5 Z" fill="#fff" stroke="#707070" stroke-width="1" shape-rendering="auto"/>
<rect x="17" y="3" width="3" height="1" fill="#8a8a8a"/><rect x="17" y="6" width="6" height="1" fill="#aaa"/><rect x="17" y="8" width="6" height="1" fill="#aaa"/>
<path d="M23,5.5 h4 v3.8 h4 v4 h-4 v3.7 h-4 v-3.7 h-4 v-4 h4 z" fill="#1fcf2a" stroke="#0a8a12" stroke-width="1" shape-rendering="auto"/>
<g fill="none" stroke="#111" stroke-width="1.15" shape-rendering="auto" stroke-linecap="square"><polyline points="37,-1 37.5,0.6"/><polyline points="34.5,1.3 39.5,1.3"/><polyline points="35.5,2.2 36,3.6"/><polyline points="38.6,2.2 38.1,3.6"/><polyline points="34,4.5 40,4.5"/><polyline points="34.5,6.6 39.5,6.6"/><polyline points="37,4.5 37,10.5 36.2,10.5"/><polyline points="36.6,7.6 34.4,9.8"/><polyline points="37.5,7.8 39.5,9.2"/><polyline points="45.2,-0.2 41.5,1.3"/><polyline points="41.5,1.3 41.5,7.5 40.6,10.6"/><polyline points="41.5,4.5 46,4.5"/><polyline points="44.2,4.5 44.2,10.8"/><polyline points="47.2,-0.3 48.2,1.2"/><polyline points="46.3,4.3 48,4.3 48,10 49.8,8"/><polyline points="50,1.5 57.8,1.5"/><polyline points="54.8,1.5 54.8,10.5 53,10.5"/><polyline points="61.5,-1 62.5,0.5"/><polyline points="67.0,-1 66.0,0.5"/><rect x="60.5" y="1.7" width="8" height="5" fill="none"/><polyline points="60.5,4.2 68.5,4.2"/><polyline points="64.5,1.7 64.5,6.7"/><polyline points="58.8,8.6 70.2,8.6"/><polyline points="64.5,6.7 64.5,11.2"/><polyline points="192.5,-1.2 191.8,0.8"/><rect x="187.6" y="1.4" width="9" height="9.4" fill="none"/><polyline points="187.6,4.3 196.6,4.3"/><polyline points="187.6,7.3 196.6,7.3"/><polyline points="199.3,1.5 203.5,1.5"/><polyline points="198.5,4.3 204.1,4.3"/><polyline points="201.1,4.3 199.1,9.6 203.7,9"/><polyline points="202.5,7.4 204.1,10.2"/><polyline points="204.3,3 209.1,3 209.1,10.6 207.5,10.6"/><polyline points="206.7,-0.5 206.7,5 204.7,10.6"/><polyline points="216.0,-1.2 216.0,0.8"/><polyline points="210.39999999999998,2 221.6,2"/><polyline points="214.2,3.4 212.0,5.6"/><polyline points="217.79999999999998,3.4 220.0,5.6"/><polyline points="212.79999999999998,5.4 221.0,10.8"/><polyline points="219.2,5.4 210.79999999999998,10.8"/><rect x="224.79999999999998" y="-0.6" width="7" height="5" fill="none"/><polyline points="224.79999999999998,2 231.79999999999998,2"/><polyline points="223.79999999999998,6.2 233.0,6.2 232.6,10.6 231.0,10.6"/><polyline points="225.2,6.2 222.6,9.6"/><polyline points="228.2,6.6 225.6,10.6"/><polyline points="230.79999999999998,6.6 228.2,10.6"/></g>
<path d="M82.3,8.3 L87.6,-0.5 L97.8,8.3 L89.8,14.8 Z" fill="#b07818" stroke="#8a5a10" stroke-width="0.8" shape-rendering="auto"/>
<path d="M83.3,8 L87.8,0.6 L96.3,7.6 L89.6,12.6 Z" fill="#f0c838" shape-rendering="auto"/>
<path d="M85,7 L88,2 L93,6.5 L89.5,10 Z" fill="#f8e070" shape-rendering="auto"/>
<path d="M112,-1 H122.5 V8.5 H112 Z" fill="#1a8af0" stroke="#1468c0" stroke-width="0.8" shape-rendering="auto"/>
<rect x="116" y="3" width="5" height="1.5" fill="#d8ecff"/><rect x="113" y="0" width="2" height="7" fill="#60b0ff"/>
<path d="M110.5,14.5 C108.5,14.5 108.5,10.5 111.5,10.5 C111.5,8 115,7 117,8.5 C118.5,6.5 123,7 123,10 C126.5,10 126.5,14.5 124,14.5 Z" fill="#e4eaf4" stroke="#5a78a8" stroke-width="1" shape-rendering="auto"/>
<g fill="none" shape-rendering="auto"><circle cx="146" cy="7" r="7.3" stroke="#9ab8e0" stroke-width="1"/><circle cx="146" cy="7" r="5" stroke="#5a8ad8" stroke-width="1"/><circle cx="146" cy="7" r="2.6" stroke="#3a6ad0" stroke-width="1"/><path d="M146,-0.3 A7.3,7.3 0 0 1 146,14.3" stroke="#6ab070" stroke-width="1.2"/><path d="M146,2 A5,5 0 0 1 150.5,9" stroke="#5aa060" stroke-width="1"/><path d="M146,7 V14.8" stroke="#20a020" stroke-width="1.4"/></g>
<circle cx="146" cy="7" r="1.2" fill="#2050c0" shape-rendering="auto"/>
<path d="M166,8 L178,8 L175,14.5 L170,14 Z" fill="#f4d040" stroke="#c09a20" shape-rendering="auto"/>
<ellipse cx="172" cy="4.5" rx="6.5" ry="3" fill="#5ab0e8" stroke="#3a80c0" shape-rendering="auto"/>
<path d="M169.5,4 L171.5,-2 L174,4 Z" fill="#5ab0e8" shape-rendering="auto"/>
<circle cx="177.5" cy="10.8" r="4.2" fill="#e02010" stroke="#a01008" shape-rendering="auto"/>
<rect x="176" y="9.3" width="3" height="3" fill="#fff"/>
<rect x="241" y="0" width="1" height="17" fill="#a0a0a0"/>
<rect x="242" y="0" width="1" height="17" fill="#ffffff"/>
<rect x="245" y="1" width="3" height="1" fill="#a0a0a0"/>
<rect x="245" y="3" width="3" height="1" fill="#a0a0a0"/>
<rect x="245" y="5" width="3" height="1" fill="#a0a0a0"/>
<rect x="245" y="7" width="3" height="1" fill="#a0a0a0"/>
<rect x="245" y="9" width="3" height="1" fill="#a0a0a0"/>
<rect x="245" y="11" width="3" height="1" fill="#a0a0a0"/>
<rect x="245" y="13" width="3" height="1" fill="#a0a0a0"/>
<rect x="245" y="15" width="3" height="1" fill="#a0a0a0"/>
<rect x="259" y="1" width="1" height="14" fill="#505050"/>
<rect x="257" y="12" width="14" height="1" fill="#505050"/>
<polygon points="257,3 262,3 259.5,0.5" fill="#505050"/>
<polygon points="270,10 270,15 272.5,12.5" fill="#505050"/>
<path d="M263.5,10.5 H265.5 V3.5 H268" fill="none" stroke="#1a9a1a" stroke-width="1.2"/>
<rect x="279" y="0" width="1" height="17" fill="#a0a0a0"/>
<rect x="280" y="0" width="1" height="17" fill="#ffffff"/>
<rect x="281" y="0" width="23" height="17" fill="#f7f7f7"/>
<rect x="287" y="1" width="1" height="14" fill="#505050"/>
<rect x="285" y="12" width="14" height="1" fill="#505050"/>
<polygon points="285,3 290,3 287.5,0.5" fill="#505050"/>
<polygon points="298,10 298,15 300.5,12.5" fill="#505050"/>
<rect x="293" y="0" width="1" height="10" fill="#1a6a1a"/>
<rect x="291" y="1" width="5" height="7" fill="#20d020" stroke="#107010" shape-rendering="auto"/>
<rect x="315" y="1" width="1" height="14" fill="#505050"/>
<rect x="313" y="12" width="14" height="1" fill="#505050"/>
<polygon points="313,3 318,3 315.5,0.5" fill="#505050"/>
<polygon points="326,10 326,15 328.5,12.5" fill="#505050"/>
<path d="M318,9 Q322,1 326,4 T330,8" fill="none" stroke="#1a9a1a" stroke-width="1.2" shape-rendering="auto"/>
<rect x="336" y="0" width="1" height="17" fill="#a0a0a0"/>
<rect x="337" y="0" width="1" height="17" fill="#ffffff"/>
<line x1="354" y1="9" x2="360" y2="15" stroke="#c0a020" stroke-width="3" shape-rendering="auto"/>
<circle cx="351" cy="5" r="5.2" fill="#d8ecfa" stroke="#3a78c8" stroke-width="1.3" shape-rendering="auto"/>
<rect x="348" y="4.3" width="6" height="1.6" fill="#3a78c8"/>
<rect x="350.2" y="2" width="1.6" height="6" fill="#3a78c8"/>
<line x1="382" y1="9" x2="388" y2="15" stroke="#c0a020" stroke-width="3" shape-rendering="auto"/>
<circle cx="379" cy="5" r="5.2" fill="#d8ecfa" stroke="#3a78c8" stroke-width="1.3" shape-rendering="auto"/>
<rect x="376" y="4.3" width="6" height="1.6" fill="#3a78c8"/>
<rect x="401" y="-1" width="7" height="7" fill="#3aa02a"/><rect x="409" y="-1" width="7" height="7" fill="#2a58c8"/>
<rect x="401" y="7" width="7" height="7" fill="#2a58c8"/><rect x="409" y="7" width="7" height="7" fill="#3aa02a"/>
<rect x="402" y="2" width="5" height="2" fill="#e8f4e0"/>
<rect x="410" y="2" width="5" height="2" fill="#e8f4e0"/>
<rect x="402" y="10" width="5" height="2" fill="#e8f4e0"/>
<rect x="410" y="10" width="5" height="2" fill="#e8f4e0"/>
<rect x="426" y="0" width="1" height="17" fill="#a0a0a0"/>
<rect x="427" y="0" width="1" height="17" fill="#ffffff"/>
<rect x="432" y="0" width="26" height="17" fill="#f7f7f7"/>
<rect x="440" y="1" width="1" height="14" fill="#505050"/>
<rect x="438" y="12" width="14" height="1" fill="#505050"/>
<polygon points="438,3 443,3 440.5,0.5" fill="#505050"/>
<polygon points="451,10 451,15 453.5,12.5" fill="#505050"/>
<polygon points="445,3 445,9 449,6" fill="#1aa01a"/>
<rect x="459" y="0" width="1" height="17" fill="#a0a0a0"/>
<rect x="460" y="0" width="1" height="17" fill="#ffffff"/>
<rect x="461" y="0" width="26" height="17" fill="#f7f7f7"/>
<rect x="468" y="1" width="1" height="14" fill="#505050"/>
<rect x="466" y="12" width="14" height="1" fill="#505050"/>
<polygon points="466,3 471,3 468.5,0.5" fill="#505050"/>
<polygon points="479,10 479,15 481.5,12.5" fill="#505050"/>
<rect x="473" y="2" width="1" height="8" fill="#2a6ac8"/>
<polygon points="475,6 478,4 478,5 480,5 480,7 478,7 478,8" fill="#e04010"/>
<rect x="488" y="0" width="1" height="17" fill="#a0a0a0"/>
<rect x="489" y="0" width="1" height="17" fill="#ffffff"/>
<path d="M499.5,-1 H506 L509,2 V12.5 H499.5 Z" fill="#fff" stroke="#707070" stroke-width="1" shape-rendering="auto"/>
<path d="M505,6 h3.5 v3.5 h3.5 v3.5 h-3.5 v3.5 h-3.5 v-3.5 h-3.5 v-3.5 h3.5 z" fill="#1fcf2a" stroke="#0a8a12" stroke-width="1" shape-rendering="auto"/>
<polygon points="519.5,6 525.5,6 522.5,9" fill="#000"/>
<circle cx="544" cy="6.5" r="7.2" fill="#1a70d0" stroke="#0a4aa0" shape-rendering="auto"/>
<circle cx="544" cy="6.5" r="5" fill="#eef4fa" shape-rendering="auto"/>
<path d="M544,3 V7 H547" fill="none" stroke="#333" stroke-width="1"/>
<polygon points="558.5,6 564.5,6 561.5,9" fill="#000"/>
<rect x="575.5" y="-0.5" width="15" height="13.5" fill="#f4f8fc" stroke="#2a60b8" shape-rendering="auto"/>
<rect x="576" y="0" width="14" height="2" fill="#2a60b8"/>
<path d="M577,5 L580,4 L583,5 L586,4 L589,4" fill="none" stroke="#c02020" stroke-width="1" shape-rendering="auto"/>
<path d="M577,10 L580,9 L583,10 L586,8 L589,10" fill="none" stroke="#20a020" stroke-width="1" shape-rendering="auto"/>
<polygon points="597.5,6 603.5,6 600.5,9" fill="#000"/>
<rect x="609" y="0" width="1" height="19" fill="#a0a0a0"/><rect x="610" y="0" width="1" height="19" fill="#fff"/>
<rect x="613" y="1" width="3" height="1" fill="#a0a0a0"/>
<rect x="613" y="3" width="3" height="1" fill="#a0a0a0"/>
<rect x="613" y="5" width="3" height="1" fill="#a0a0a0"/>
<rect x="613" y="7" width="3" height="1" fill="#a0a0a0"/>
<rect x="613" y="9" width="3" height="1" fill="#a0a0a0"/>
<rect x="613" y="11" width="3" height="1" fill="#a0a0a0"/>
<rect x="613" y="13" width="3" height="1" fill="#a0a0a0"/>
<rect x="613" y="15" width="3" height="1" fill="#a0a0a0"/>
<rect x="619" y="0" width="1" height="17" fill="#a0a0a0"/>
<rect x="620" y="0" width="1" height="17" fill="#ffffff"/>
<rect x="621" y="0" width="23" height="17" fill="#f7f7f7"/>
<path d="M627,0.5 L627,12 L629.5,9.5 L632,14 L634,13 L631.5,8.8 L635,8.5 Z" fill="#404040" shape-rendering="auto"/>
<rect x="659" y="0" width="1" height="15" fill="#505050"/><rect x="652" y="7" width="15" height="1" fill="#505050"/>
<rect x="659" y="7" width="1" height="1" fill="#f0f0f0"/>
<rect x="676" y="0" width="1" height="17" fill="#a0a0a0"/>
<rect x="677" y="0" width="1" height="17" fill="#ffffff"/>
<rect x="693" y="1" width="1" height="13" fill="#505050"/>
<rect x="716" y="7" width="12" height="1" fill="#505050"/>
<line x1="744" y1="13.8" x2="756" y2="1.8" stroke="#505050" stroke-width="1" shape-rendering="auto"/>
<g stroke="#505050" stroke-width="1" shape-rendering="auto" fill="none"><line x1="771" y1="9" x2="781" y2="1"/><line x1="772" y1="13" x2="782" y2="5"/><line x1="774" y1="5" x2="776" y2="12"/><line x1="777" y1="3" x2="779" y2="10"/></g>
<text x="782" y="16" font-size="7" font-weight="bold" fill="#404040">E</text>
<line x1="799" y1="0.5" x2="812" y2="0.5" stroke="#505050" stroke-dasharray="1,1"/>
<line x1="799" y1="3.5" x2="812" y2="3.5" stroke="#505050" stroke-dasharray="1,1"/>
<line x1="799" y1="7.5" x2="812" y2="7.5" stroke="#505050" stroke-dasharray="1,1"/>
<line x1="799" y1="11.5" x2="812" y2="11.5" stroke="#505050" stroke-dasharray="1,1"/>
<text x="809" y="16" font-size="7" font-weight="bold" fill="#404040">F</text>
<text x="829" y="12" font-size="12" font-weight="bold" fill="#505050">A</text>
<rect x="856.5" y="0.5" width="11" height="13" fill="none" stroke="#606060" stroke-dasharray="1,1"/>
<text x="858" y="12" font-size="12" font-weight="bold" fill="#505050">T</text>
<polygon points="886,0 889,3 886,6 883,3" fill="#404040"/><polygon points="895,7 898,10 895,13 892,10" fill="#404040"/>
<path d="M884,7 L886,9 L891,4" fill="none" stroke="#404040" stroke-width="1.4" shape-rendering="auto"/>
<polygon points="903.5,6 909.5,6 906.5,9" fill="#000"/>
<rect x="915" y="0" width="1" height="19" fill="#a0a0a0"/><rect x="916" y="0" width="1" height="19" fill="#fff"/>
<rect x="919" y="1" width="3" height="1" fill="#a0a0a0"/>
<rect x="919" y="3" width="3" height="1" fill="#a0a0a0"/>
<rect x="919" y="5" width="3" height="1" fill="#a0a0a0"/>
<rect x="919" y="7" width="3" height="1" fill="#a0a0a0"/>
<rect x="919" y="9" width="3" height="1" fill="#a0a0a0"/>
<rect x="919" y="11" width="3" height="1" fill="#a0a0a0"/>
<rect x="919" y="13" width="3" height="1" fill="#a0a0a0"/>
<rect x="919" y="15" width="3" height="1" fill="#a0a0a0"/>
<rect x="1065" y="0" width="1" height="17" fill="#a0a0a0"/><rect x="1066" y="0" width="1" height="17" fill="#fff"/>
<rect x="1067" y="0" width="23" height="17" fill="#f7f7f7"/>
<text x="930.5" y="11" font-size="10.4" fill="#4a4a4a" transform="translate(930.5,0) scale(0.93,1) translate(-930.5,0)">M1</text>
<text x="958.5" y="11" font-size="10.4" fill="#4a4a4a" transform="translate(958.5,0) scale(0.93,1) translate(-958.5,0)">M5</text>
<text x="984.5" y="11" font-size="10.4" fill="#4a4a4a" transform="translate(984.5,0) scale(0.93,1) translate(-984.5,0)">M15</text>
<text x="1012.5" y="11" font-size="10.4" fill="#4a4a4a" transform="translate(1012.5,0) scale(0.93,1) translate(-1012.5,0)">M30</text>
<text x="1043.5" y="11" font-size="10.4" fill="#4a4a4a" transform="translate(1043.5,0) scale(0.93,1) translate(-1043.5,0)">H1</text>
<text x="1070.5" y="11" font-size="10.4" fill="#4a4a4a" transform="translate(1070.5,0) scale(0.93,1) translate(-1070.5,0)">H4</text>
<text x="1099.5" y="11" font-size="10.4" fill="#4a4a4a" transform="translate(1099.5,0) scale(0.93,1) translate(-1099.5,0)">D1</text>
<text x="1127" y="11" font-size="10.4" fill="#4a4a4a" transform="translate(1127,0) scale(0.93,1) translate(-1127,0)">W1</text>
<text x="1153" y="11" font-size="10.4" fill="#4a4a4a" transform="translate(1153,0) scale(0.93,1) translate(-1153,0)">MN</text>
<rect x="1176" y="0" width="1" height="19" fill="#a0a0a0"/><rect x="1177" y="0" width="1" height="19" fill="#fff"/>
<line x1="1639.5" y1="12" x2="1644" y2="7.5" stroke="#2a60d0" stroke-width="2.2" shape-rendering="auto"/>
<circle cx="1646.5" cy="4.5" r="3.6" fill="#f8f8ff" stroke="#2a60d0" stroke-width="1.4" shape-rendering="auto"/>
<ellipse cx="1669" cy="10" rx="6" ry="4.6" fill="#e8e8ee" stroke="#a0a0a0" shape-rendering="auto"/>
<polygon points="1665,13 1666.5,16 1668.5,13.5" fill="#a0a0a0"/>
<circle cx="1677.5" cy="4.8" r="7.6" fill="#e02a10" shape-rendering="auto"/>
<text x="1677.5" y="9" font-size="11" font-family="Liberation Serif" fill="#fff" text-anchor="middle">1</text>
</svg>
</body></html>
